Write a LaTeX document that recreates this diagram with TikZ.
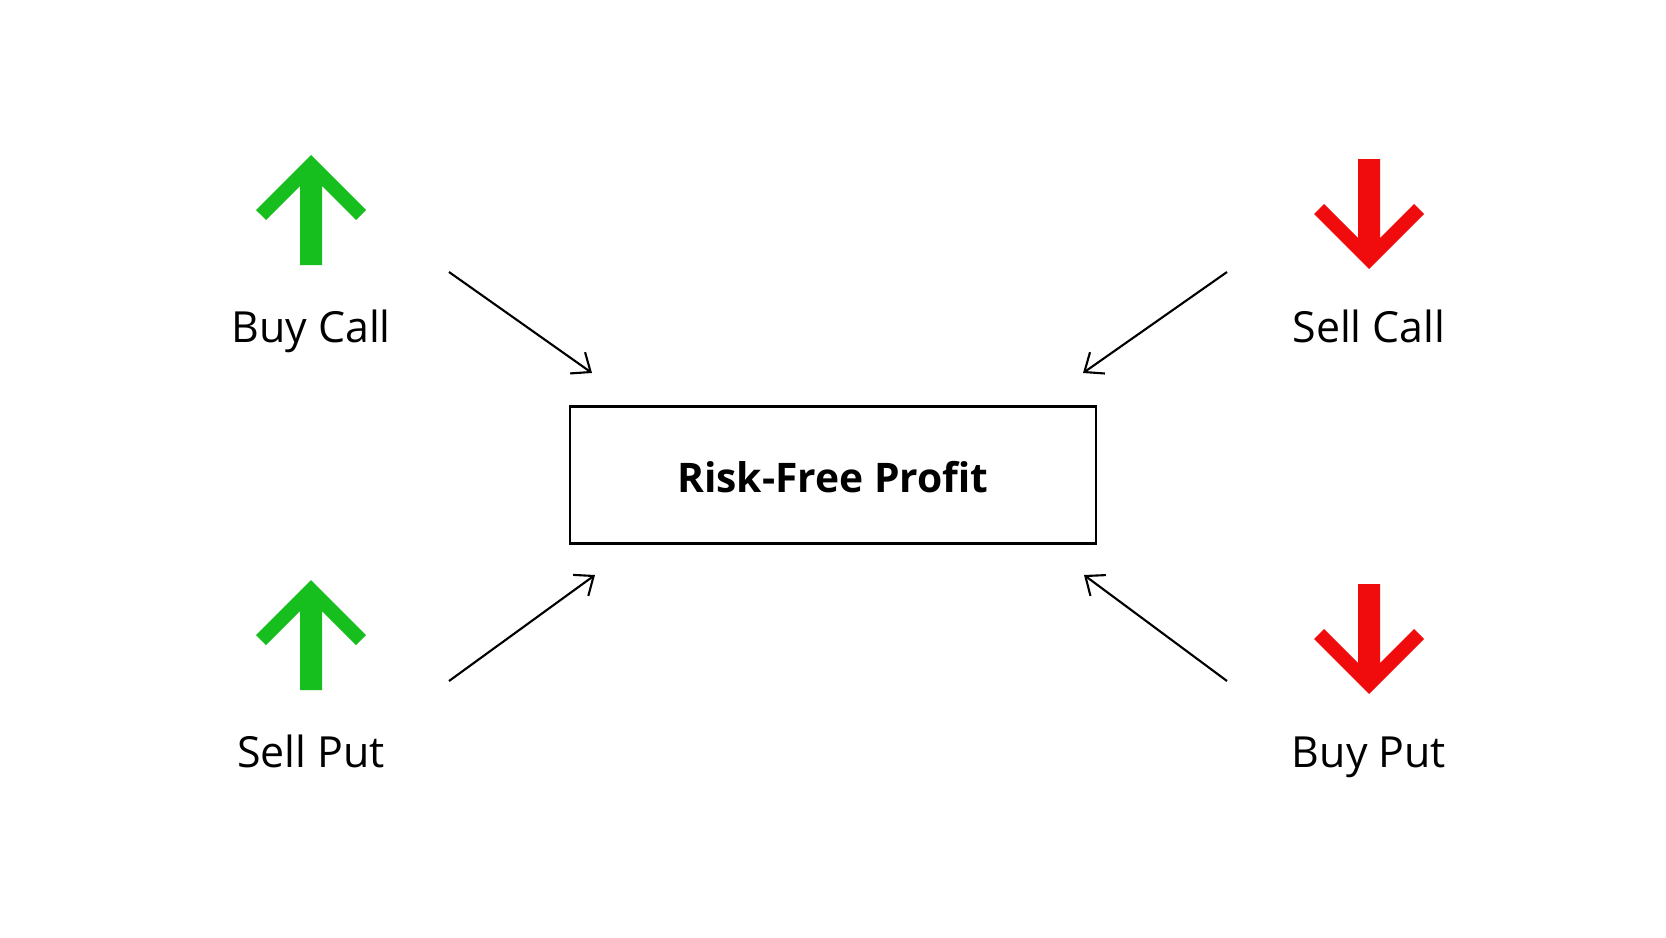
\documentclass[tikz,border=0pt]{standalone}
\usepackage{fontspec}
\setmainfont{Open Sans}
\usetikzlibrary{arrows.meta,positioning}
\definecolor{upgreen}{RGB}{22,190,30}
\definecolor{downred}{RGB}{240,12,12}
\begin{document}
\begin{tikzpicture}
    \tikzstyle{lbl} = [anchor=base, font=\fontsize{12.2}{15}\selectfont]
    \tikzstyle{link} = [-{Straight Barb[length=1.6mm,width=2.6mm]}, semithick]
    \tikzset{bigup/.pic={\fill (0,0) -- (0.55,-0.55) -- (0.45,-0.65) -- (0.11,-0.31) -- (0.11,-1.1)
        -- (-0.11,-1.1) -- (-0.11,-0.31) -- (-0.45,-0.65) -- (-0.55,-0.55) -- cycle;}}
    \useasboundingbox (0,0) rectangle (16.66,9.37);
    \node (profit) at (8.33,4.62) [rectangle, draw, thick, minimum width=5.26cm, minimum height=1.37cm] {};
    \node (title) at (8.33,4.45) [anchor=base, font=\fontsize{11.6}{14}\selectfont\bfseries] {Risk-Free Profit};
    % arrows
    \pic[upgreen] at (3.11,7.82) {bigup};
    \pic[upgreen] at (3.11,3.57) {bigup};
    \pic[downred, rotate=180] at (13.69,6.68) {bigup};
    \pic[downred, rotate=180] at (13.69,2.43) {bigup};
    % labels
    \node (buycall) at (3.11,5.95) [lbl] {Buy Call};
    \node (sellput) at (3.11,1.70) [lbl] {Sell Put};
    \node (sellcall) at (13.69,5.95) [lbl] {Sell Call};
    \node (buyput) at (13.69,1.70) [lbl] {Buy Put};
    % connectors
    \coordinate (t1) at (4.49,6.65); \coordinate (h1) at (5.92,5.64);
    \coordinate (t2) at (12.27,6.65); \coordinate (h2) at (10.83,5.64);
    \coordinate (t3) at (4.49,2.56); \coordinate (h3) at (5.95,3.62);
    \coordinate (t4) at (12.27,2.56); \coordinate (h4) at (10.84,3.62);
    \foreach \i in {1,...,4} \draw [link] (t\i) -- (h\i);
\end{tikzpicture}
\end{document}
